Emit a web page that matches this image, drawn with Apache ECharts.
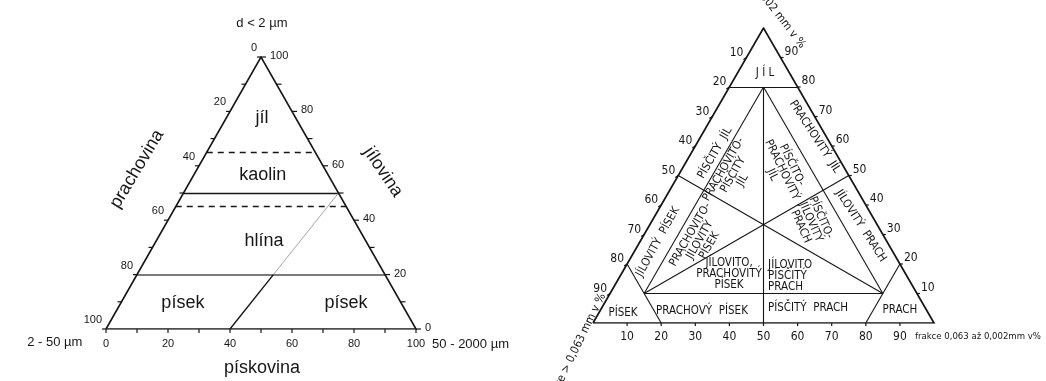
<!DOCTYPE html>
<html>
<head>
<meta charset="utf-8">
<script src="https://cdn.jsdelivr.net/npm/echarts@6/dist/echarts.min.js"></script>
<style>
  html, body { margin: 0; padding: 0; background: #fff; }
  #c { width: 1046px; height: 381px; }
</style>
</head>
<body>
<div id="c"></div>
<script>
// ---------- Left diagram: jílovina / prachovina / pískovina ----------
const leftTickValues = [0, 10, 20, 30, 40, 50, 60, 70, 80, 90, 100];
const leftTickLabels = ['0', '20', '40', '60', '80', '100'];
const leftDashedClay = [65, 45];          // dashed class limits (clay %)
const leftSolidClay = [50];               // solid class limit
const leftShadedClay = [20];              // grey class limit
const leftDividerLow = [[40, 0], [44, 20]];   // [sand, clay]
const leftDividerHigh = [[44, 20], [50, 50]];
const leftZones = ['jíl', 'kaolin', 'hlína', 'písek', 'písek'];
const leftTitles = ['d < 2 µm', 'prachovina', 'jílovina', '2 - 50 µm', '50 - 2000 µm', 'pískovina'];

// ---------- Right diagram: sand / silt / clay classes ----------
const rightTickValues = [10, 20, 30, 40, 50, 60, 70, 80, 90];
const rightTickLabels = ['10', '20', '30', '40', '50', '60', '70', '80', '90'];
// class boundaries as [sand, silt, clay] end points
const rightBoundaries = [
  [[20, 0, 80], [0, 20, 80]],
  [[10, 10, 80], [50, 50, 0]],
  [[10, 10, 80], [80, 10, 10]],
  [[10, 10, 80], [10, 80, 10]],
  [[50, 0, 50], [10, 80, 10]],
  [[0, 50, 50], [80, 10, 10]],
  [[80, 10, 10], [10, 80, 10]],
  [[80, 0, 20], [80, 20, 0]],
  [[0, 80, 20], [20, 80, 0]]
];
const rightZones = [
  'J Í L', 'PÍSČITÝ  JÍL', 'PRACHOVITO-\nPÍSČITÝ\nJÍL', 'PÍSČITO-\nPRACHOVITÝ\nJÍL',
  'PRACHOVITÝ  JÍL', 'JÍLOVITÝ  PÍSEK', 'PRACHOVITO-\nJÍLOVITÝ\nPÍSEK',
  'JÍLOVITO,\nPRACHOVITÝ\nPÍSEK', 'JÍLOVITO\nPÍSČITÝ\nPRACH', 'PÍSČITO-\nJÍLOVITÝ\nPRACH',
  'JÍLOVITÝ  PRACH', 'PÍSEK', 'PRACHOVÝ  PÍSEK', 'PÍSČITÝ  PRACH', 'PRACH'
];
const rightTitles = ['frakce 0,063 až 0,002mm v%', 'frakce < 0,002 mm v %', 'frakce > 0,063 mm v %'];

// ---------- label layout ----------
const leftZoneAnchors = [[11.5, 77.6], [22.3, 56.6], [34.8, 32.4], [20, 9.6], [72.6, 9.6]]; // [sand, clay]
const leftTitleAnchors = [[50.3, 112.5], [10, 58.8], [89.4, 57.7], [-16.5, -5.1], [105.2, -5.5], [50.3, -14.3]]; // plane coords
const leftTitleTilt = [0, 59, -56, 0, 0, 0];
const leftTitleAlign = ['center', 'center', 'center', 'center', 'left', 'center'];
const leftTitleSize = [13, 18, 18, 13, 13, 18];

const rightZoneAnchors = [
  [8.1, 84.7], [7, 57.6], [16, 50.2], [29.5, 51.9], [33.5, 63.1], [5.3, 27.5], [17.3, 28.1],
  [31.6, 16.6], [43.4, 15.9], [46.8, 34.2], [62.1, 32.9], [7.1, 3.4], [29.9, 4.1], [60.5, 5.1], [87.8, 4.4]
]; // [silt, clay]
const rightZoneTilt = [0, 60, 60, -64, -57, 61, 60, 0, 0, -66, -57, 0, 0, 0, 0];
const rightZoneAlign = ['center', 'center', 'center', 'center', 'center', 'center', 'center',
  'center', 'left', 'center', 'center', 'center', 'center', 'center', 'center'];
const rightTitleAnchors = [[94.4, -4.7], [61.6, 93.6], [2.9, 9.8]]; // plane coords
const rightTitleTilt = [0, -52, 64];
const rightTitleAlign = ['left', 'right', 'right'];
const rightTitleSize = [9.5, 11.5, 11.5];

// projections into each diagram's plane (x along the base, y = clay %)
const L = (sand, clay) => [sand + clay / 2, clay];
const R = (silt, clay) => [silt + clay / 2, clay];
const T = (sand, silt, clay) => [silt + clay / 2, clay];

const SANS = '"Liberation Sans", Arial, sans-serif';
const NARROW = '"Liberation Sans Narrow", "DejaVu Sans Condensed", "Arial Narrow", sans-serif';
const INK = '#161616';
const deg = a => a * Math.PI / 180;

// ---------- ticks ----------
const leftTicks = [];
leftTickValues.forEach(v => {
  const txt = leftTickLabels.includes(String(v)) ? String(v) : '';
  leftTicks.push({ at: L(0, 100 - v), tx: -4, ty: 0, text: txt, lx: -4, ly: -9, align: 'right' });
  leftTicks.push({ at: L(100 - v, v), tx: 5, ty: 0, text: txt, lx: 9, ly: -1, align: 'left' });
  leftTicks.push({ at: L(v, 0), tx: 0, ty: 4, text: txt, lx: 0, ly: 15, align: 'center' });
});
const rightTicks = [];
rightTickValues.forEach((v, i) => {
  const txt = rightTickLabels[i];
  rightTicks.push({ at: T(v, 0, 100 - v), tx: -3, ty: 2, text: txt, lx: -3, ly: -5, align: 'right' });
  rightTicks.push({ at: T(0, 100 - v, v), tx: 3, ty: 0, text: txt, lx: 4, ly: -6, align: 'left' });
  rightTicks.push({ at: T(100 - v, v, 0), tx: 0, ty: 3, text: txt, lx: 0, ly: 14, align: 'center' });
});

function tickSeries(idx, ticks, family, size) {
  return {
    type: 'custom', xAxisIndex: idx, yAxisIndex: idx, silent: true, clip: false,
    data: ticks.map(t => t.at),
    renderItem(params, api) {
      const t = ticks[params.dataIndex];
      const p = api.coord(t.at);
      const kids = [{
        type: 'line',
        shape: { x1: p[0], y1: p[1], x2: p[0] + t.tx, y2: p[1] + t.ty },
        style: { stroke: INK, lineWidth: 1.2 }
      }];
      if (t.text) {
        kids.push({
          type: 'text', x: p[0] + t.lx, y: p[1] + t.ly,
          style: { text: t.text, fill: INK, fontSize: size, fontFamily: family, align: t.align, verticalAlign: 'middle' }
        });
      }
      return { type: 'group', children: kids };
    }
  };
}

function textSeries(idx, texts, anchors, tilt, align, family, size, lineHeight) {
  return {
    type: 'custom', xAxisIndex: idx, yAxisIndex: idx, silent: true, clip: false,
    data: anchors,
    renderItem(params, api) {
      const i = params.dataIndex;
      const p = api.coord(anchors[i]);
      return {
        type: 'text', x: p[0], y: p[1], rotation: deg(tilt[i]),
        style: {
          text: texts[i], fill: INK,
          fontSize: Array.isArray(size) ? size[i] : size,
          fontFamily: family, align: align[i], verticalAlign: 'middle',
          lineHeight: lineHeight
        }
      };
    }
  };
}

function segments(list, proj) {
  return list.map(s => ({ coords: s.map(p => proj(...p)) }));
}
function linesSeries(idx, data, color, width, type, polyline) {
  return {
    type: 'lines', coordinateSystem: 'cartesian2d', xAxisIndex: idx, yAxisIndex: idx,
    polyline: !!polyline, silent: true, data: data,
    lineStyle: { color: color, width: width, type: type || 'solid', opacity: 1, curveness: 0 }
  };
}

const axisOff = i => ({ gridIndex: i, type: 'value', min: 0, max: 100, show: false });

const chart = echarts.init(document.getElementById('c'), null, { renderer: 'canvas' });
chart.setOption({
  backgroundColor: '#ffffff',
  animation: false,
  grid: [
    { left: 106, top: 57, width: 310, height: 272 },
    { left: 593, top: 28, width: 341, height: 295 }
  ],
  xAxis: [axisOff(0), axisOff(1)],
  yAxis: [axisOff(0), axisOff(1)],
  series: [
    // left diagram
    linesSeries(0, leftShadedClay.map(c => ({ coords: [L(0, c), L(100 - c, c)] })), '#7a7a7a', 2.2),
    linesSeries(0, leftDashedClay.map(c => ({ coords: [L(0, c), L(100 - c, c)] })), INK, 1.3, [6, 5]),
    linesSeries(0, leftSolidClay.map(c => ({ coords: [L(0, c), L(100 - c, c)] })), INK, 1.4),
    linesSeries(0, [{ coords: leftDividerHigh.map(p => L(...p)) }], '#9a9a9a', 0.9),
    linesSeries(0, [{ coords: leftDividerLow.map(p => L(...p)) }], INK, 1.4),
    linesSeries(0, [{ coords: [L(0, 0), L(100, 0), L(0, 100), L(0, 0)] }], INK, 1.6, 'solid', true),
    tickSeries(0, leftTicks, SANS, 11),
    textSeries(0, leftZones, leftZoneAnchors.map(a => L(...a)), [0, 0, 0, 0, 0],
      ['center', 'center', 'center', 'center', 'center'], SANS, 18),
    textSeries(0, leftTitles, leftTitleAnchors, leftTitleTilt, leftTitleAlign, SANS, leftTitleSize),

    // right diagram
    linesSeries(1, segments(rightBoundaries, T), INK, 1.1),
    linesSeries(1, [{ coords: [T(100, 0, 0), T(0, 100, 0), T(0, 0, 100), T(100, 0, 0)] }], INK, 1.7, 'solid', true),
    tickSeries(1, rightTicks, NARROW, 12),
    textSeries(1, rightZones, rightZoneAnchors.map(a => R(...a)), rightZoneTilt, rightZoneAlign, NARROW, 11.5, 11),
    textSeries(1, rightTitles, rightTitleAnchors, rightTitleTilt, rightTitleAlign, NARROW, rightTitleSize)
  ]
});
</script>
</body>
</html>
